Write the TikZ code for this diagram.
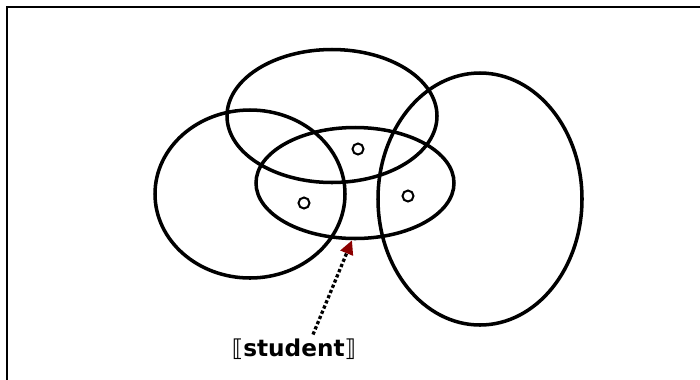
\documentclass[tikz,border=0pt]{standalone}
\usepackage{fontspec}
\setmainfont{DejaVu Sans}
\usetikzlibrary{arrows.meta, shapes.geometric}
\def\u{0.03cm}

\begin{document}
\begin{tikzpicture}[x=0.03cm, y=-0.03cm,
  set/.style={ellipse, draw, line width=3pt, inner sep=0pt},
  elem/.style={circle, draw, line width=1.7pt, minimum size=11*\u, inner sep=0pt},
  every node/.style={font=\fontsize{19.8}{23}\selectfont}]
\useasboundingbox (0,0) rectangle (700,379);
\clip (0,0) rectangle (700,379);
\draw[line width=2pt] (7,7) rectangle (720,400);
% the sets
\node[set, minimum width=190*\u, minimum height=168*\u] (left)  at (250,194) {};
\node[set, minimum width=210*\u, minimum height=133*\u] (top)   at (332,116) {};
\node[set, minimum width=198*\u, minimum height=111*\u] (mid)   at (355,183) {};
\node[set, minimum width=204*\u, minimum height=252*\u] (right) at (480,199) {};
% the elements
\node[elem] (e1) at (358,149) {};
\node[elem] (e2) at (304,203) {};
\node[elem] (e3) at (408,196) {};
\node (label) at (294,349) {⟦\textbf{student}⟧};
\draw[dotted, line width=2.8pt, -{Triangle[color=red!55!black, length=14*\u, width=13*\u]}]
  ([xshift=19*\u]label.north) -- (mid.-93);
\end{tikzpicture}
\end{document}
